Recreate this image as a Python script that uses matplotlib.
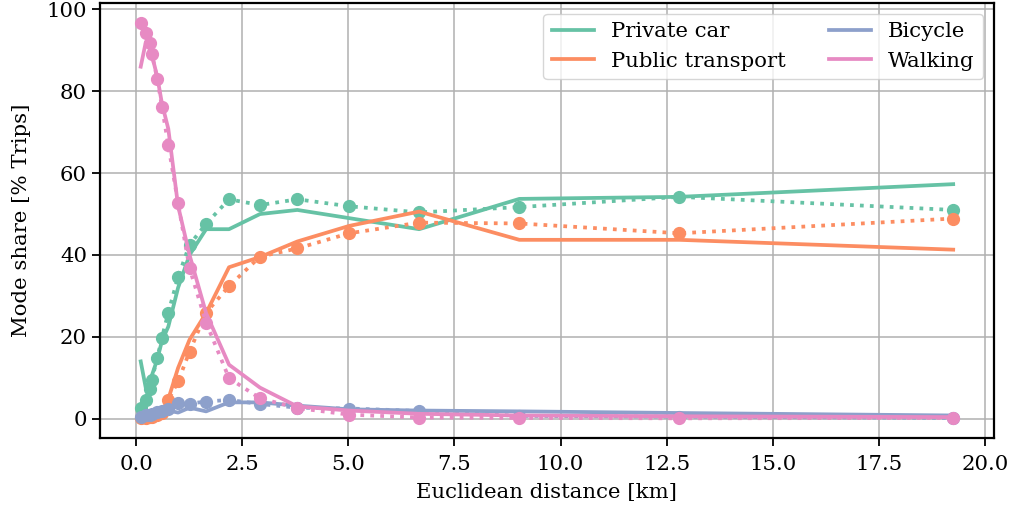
import numpy as np
import matplotlib.pyplot as plt

# distance bin centres [km]
distance = [0.11, 0.23, 0.32, 0.37, 0.50, 0.61, 0.76, 0.99, 1.26, 1.65,
            2.19, 2.92, 3.80, 5.02, 6.67, 9.03, 12.8, 19.25]

modes = ["Private car", "Public transport", "Bicycle", "Walking"]
colors = ["#66c2a5", "#fc8d62", "#8da0cb", "#e78ac3"]

# observed shares (markers, dotted)
obs_car = [2.6, 4.6, 7.2, 9.5, 14.8, 19.8, 25.9, 34.6, 42.5, 47.6,
           53.6, 52.2, 53.6, 51.9, 50.4, 51.7, 54.2, 51.0]
obs_pt = [0.2, 0.3, 0.4, 0.5, 0.8, 1.5, 4.6, 9.1, 16.4, 25.9,
          32.4, 39.6, 41.6, 45.3, 47.9, 47.7, 45.3, 48.9]
obs_bike = [0.5, 0.8, 1.0, 1.2, 1.6, 2.0, 2.5, 3.9, 3.7, 4.2,
            4.6, 3.6, 2.7, 2.5, 1.9, 0.7, 0.5, 0.2]
obs_walk = [96.7, 94.2, 91.8, 89.2, 83.0, 76.2, 66.8, 52.7, 36.8, 23.5,
            9.9, 5.0, 2.6, 1.0, 0.3, 0.2, 0.1, 0.2]

# model shares (solid)
mod_car = [14.0, 7.5, 9.0, 10.5, 14.5, 19.0, 22.5, 32.0, 40.0, 46.3,
           46.3, 50.0, 51.0, 49.0, 46.3, 53.7, 54.2, 57.3]
mod_pt = [0.2, 0.3, 0.4, 0.5, 0.8, 1.3, 4.8, 12.4, 19.3, 25.8,
          37.0, 39.5, 43.3, 47.1, 50.6, 43.7, 43.7, 41.3]
mod_bike = [0.3, 0.6, 0.8, 1.0, 1.5, 2.0, 2.0, 1.5, 2.7, 1.8,
            4.0, 4.0, 3.2, 2.3, 2.0, 1.8, 1.4, 0.8]
mod_walk = [86.0, 92.0, 90.5, 89.0, 83.5, 77.0, 70.8, 52.0, 40.0, 25.8,
            13.2, 7.6, 3.0, 2.0, 1.2, 0.8, 0.6, 0.4]

observed = [obs_car, obs_pt, obs_bike, obs_walk]
modelled = [mod_car, mod_pt, mod_bike, mod_walk]

plt.rcParams['font.family'] = 'DejaVu Serif'
plt.rcParams['font.size'] = 15.3

fig, ax = plt.subplots(figsize=(10.11, 5.13), dpi=100)
fig.subplots_adjust(left=0.099, right=0.983, top=0.994, bottom=0.146)

for name, col, obs, mod in zip(modes, colors, observed, modelled):
    ax.plot(distance, mod, color=col, lw=2.7, label=name)
    ax.plot(distance, obs, color=col, lw=2.7, ls=':', marker='o', ms=8.5)

ax.set_xticks(np.arange(0, 20.1, 2.5))
ax.set_yticks(np.arange(0, 101, 20))
ax.grid(True, color='#b0b0b0', lw=1.1)
for s in ax.spines.values():
    s.set_linewidth(1.6)
ax.tick_params(width=1.3, length=6)
ax.tick_params(axis='x', pad=6)
ax.set_xlabel('Euclidean distance [km]', labelpad=7)
ax.set_ylabel('Mode share [% Trips]', labelpad=11)
ax.legend(ncol=2, loc='upper right', fontsize=15.3)

fig.savefig('out.png', dpi=100)
